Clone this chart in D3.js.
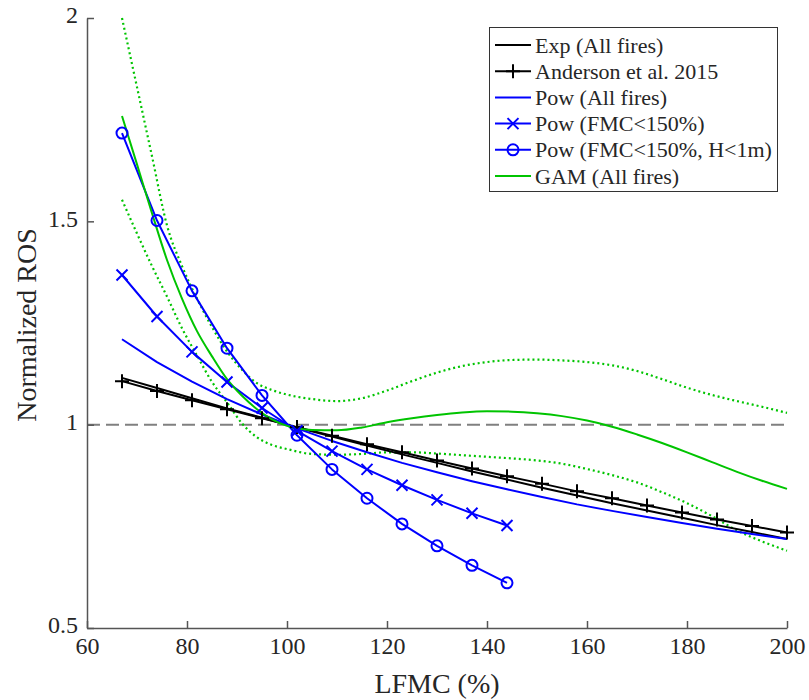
<!DOCTYPE html>
<html>
<head>
<meta charset="utf-8">
<script src="https://cdn.jsdelivr.net/npm/d3@7"></script>
<style>
  body { margin: 0; background: #fff; }
  svg { display: block; }
  svg text { font-family: "Liberation Serif", "Tinos", "Times New Roman", Times, "Nimbus Roman", "Nimbus Roman No9 L", "DejaVu Serif", "Noto Serif", serif !important; fill: #262626; }
</style>
</head>
<body>
<svg id="chart" width="809" height="700"></svg>
<script>
// ---- data ----
const xTicks = [60, 80, 100, 120, 140, 160, 180, 200];
const yTicks = [0.5, 1, 1.5, 2];
const yTickLabels = ["0.5", "1", "1.5", "2"];

const lfmcFull = [67, 74, 81, 88, 95, 102, 109, 116, 123, 130, 137, 144, 151, 158, 165, 172, 179, 186, 193, 200];
const lfmcShort = [67, 74, 81, 88, 95, 102, 109, 116, 123, 130, 137, 144];

const expAll = [1.115, 1.090, 1.065, 1.040, 1.017, 0.993, 0.971, 0.949, 0.927, 0.906, 0.885, 0.865, 0.845, 0.826, 0.807, 0.789, 0.771, 0.753, 0.736, 0.719];
const anderson = [1.107, 1.083, 1.060, 1.038, 1.016, 0.994, 0.973, 0.952, 0.932, 0.912, 0.892, 0.873, 0.855, 0.836, 0.819, 0.801, 0.784, 0.767, 0.751, 0.735];
const powAll = [1.210, 1.154, 1.106, 1.063, 1.025, 0.991, 0.960, 0.932, 0.906, 0.883, 0.861, 0.841, 0.822, 0.804, 0.788, 0.773, 0.758, 0.744, 0.731, 0.719];
const powFmc = [1.368, 1.266, 1.179, 1.105, 1.041, 0.985, 0.935, 0.890, 0.851, 0.815, 0.782, 0.752];
const powFmcH = [1.717, 1.502, 1.329, 1.188, 1.072, 0.974, 0.890, 0.819, 0.756, 0.702, 0.654, 0.611];

const gamX = [67, 70, 73, 76, 79, 82, 85, 88, 91, 94, 97, 100, 105, 110, 115, 120, 125, 130, 135, 140, 145, 150, 155, 160, 165, 170, 175, 180, 185, 190, 195, 200];
const gamFit = [1.759, 1.640, 1.520, 1.405, 1.310, 1.230, 1.168, 1.112, 1.071, 1.038, 1.013, 0.997, 0.987, 0.986, 0.993, 1.006, 1.016, 1.024, 1.030, 1.033, 1.032, 1.028, 1.021, 1.010, 0.995, 0.976, 0.955, 0.932, 0.908, 0.884, 0.862, 0.842];
const gamUpper = [2.000, 1.830, 1.660, 1.490, 1.390, 1.310, 1.240, 1.180, 1.135, 1.102, 1.085, 1.074, 1.063, 1.058, 1.065, 1.084, 1.107, 1.128, 1.144, 1.154, 1.159, 1.160, 1.158, 1.154, 1.146, 1.132, 1.112, 1.091, 1.073, 1.058, 1.044, 1.029];
const gamLower = [1.553, 1.470, 1.390, 1.315, 1.237, 1.170, 1.105, 1.055, 1.003, 0.969, 0.950, 0.940, 0.928, 0.926, 0.928, 0.932, 0.932, 0.929, 0.925, 0.921, 0.917, 0.912, 0.904, 0.891, 0.876, 0.858, 0.834, 0.807, 0.775, 0.740, 0.713, 0.690];

const legendLabels = ["Exp (All fires)", "Anderson et al. 2015", "Pow (All fires)", "Pow (FMC<150%)", "Pow (FMC<150%, H<1m)", "GAM (All fires)"];

// ---- drawing ----
const svg = d3.select("#chart");
const x = d3.scaleLinear().domain([60, 200]).range([87, 787]);
const y = d3.scaleLinear().domain([0.5, 2]).range([628, 18]);

const BLUE = "#0000ff", GREEN = "#00c400", BLACK = "#000000";

// reference line at 1
svg.append("line")
  .attr("x1", x(60)).attr("x2", x(200))
  .attr("y1", y(1)).attr("y2", y(1))
  .attr("stroke", "#808080").attr("stroke-width", 2)
  .attr("stroke-dasharray", "13,6");

const line = d3.line().curve(d3.curveMonotoneX).x(d => x(d[0])).y(d => y(d[1]));
const straight = d3.line().x(d => x(d[0])).y(d => y(d[1]));
function drawLine(xs, ys, color, dash, width, gen) {
  svg.append("path")
    .attr("d", (gen || straight)(xs.map((v, i) => [v, ys[i]])))
    .attr("fill", "none").attr("stroke", color)
    .attr("stroke-width", width || 2)
    .attr("stroke-dasharray", dash || null)
    .attr("stroke-linejoin", "round");
}

// GAM confidence band (dotted)
drawLine(gamX, gamUpper, GREEN, "2,3", 2.2, line);
drawLine(gamX, gamLower, GREEN, "2,3", 2.2, line);

// lines
drawLine(lfmcFull, anderson, BLACK);
drawLine(lfmcFull, expAll, BLACK);
drawLine(lfmcFull, powAll, BLUE);
drawLine(lfmcShort, powFmc, BLUE);
drawLine(lfmcShort, powFmcH, BLUE);
drawLine(gamX, gamFit, GREEN, null, 2, line);

// markers
function plusMarker(g, cx, cy, s, color) {
  g.append("path").attr("d", `M${cx - s},${cy}H${cx + s}M${cx},${cy - s}V${cy + s}`)
    .attr("stroke", color).attr("stroke-width", 2).attr("fill", "none");
}
function crossMarker(g, cx, cy, s, color) {
  g.append("path").attr("d", `M${cx - s},${cy - s}L${cx + s},${cy + s}M${cx - s},${cy + s}L${cx + s},${cy - s}`)
    .attr("stroke", color).attr("stroke-width", 2).attr("fill", "none");
}
function circleMarker(g, cx, cy, r, color) {
  g.append("circle").attr("cx", cx).attr("cy", cy).attr("r", r)
    .attr("stroke", color).attr("stroke-width", 2).attr("fill", "none");
}
const mk = svg.append("g");
lfmcFull.forEach((v, i) => plusMarker(mk, x(v), y(anderson[i]), 7, BLACK));
lfmcShort.forEach((v, i) => crossMarker(mk, x(v), y(powFmc[i]), 5.5, BLUE));
lfmcShort.forEach((v, i) => circleMarker(mk, x(v), y(powFmcH[i]), 5.5, BLUE));

// axes
const axisColor = "#555";
const xAxis = svg.append("g").attr("transform", `translate(0,${y(0.5)})`)
  .call(d3.axisBottom(x).tickValues(xTicks).tickFormat(d3.format("d")).tickSizeInner(-7).tickSizeOuter(0).tickPadding(9));
const yAxis = svg.append("g").attr("transform", `translate(${x(60)},0)`)
  .call(d3.axisLeft(y).tickValues(yTicks).tickFormat((d, i) => yTickLabels[i]).tickSizeInner(-7).tickSizeOuter(0).tickPadding(9));
[xAxis, yAxis].forEach(a => {
  a.attr("font-family", null);
  a.select(".domain").attr("stroke", axisColor).attr("stroke-width", 1.5);
  a.selectAll(".tick line").attr("stroke", axisColor).attr("stroke-width", 1.5);
  a.selectAll(".tick text").attr("font-size", 24).attr("fill", "#262626");
});
yAxis.selectAll(".tick text").attr("dy", "0.2em");

// axis titles
svg.append("text").attr("x", x(130)).attr("y", 693)
  .attr("text-anchor", "middle").attr("font-size", 28).text("LFMC (%)");
svg.append("text").attr("transform", `translate(36,${y(1.25) + 2}) rotate(-90)`)
  .attr("text-anchor", "middle").attr("font-size", 28).text("Normalized ROS");

// legend
const lg = svg.append("g");
lg.append("rect").attr("x", 489.5).attr("y", 27.5).attr("width", 288).attr("height", 164)
  .attr("fill", "#fff").attr("stroke", "#333").attr("stroke-width", 1);
const legendStyles = [
  { c: BLACK, m: null }, { c: BLACK, m: "plus" }, { c: BLUE, m: null },
  { c: BLUE, m: "cross" }, { c: BLUE, m: "circle" }, { c: GREEN, m: null }
];
legendLabels.forEach((t, i) => {
  const cy = 45 + i * 26.2;
  const st = legendStyles[i];
  lg.append("line").attr("x1", 495).attr("x2", 531).attr("y1", cy).attr("y2", cy)
    .attr("stroke", st.c).attr("stroke-width", 2);
  const mx = 513;
  if (st.m === "plus") plusMarker(lg, mx, cy, 7, st.c);
  if (st.m === "cross") crossMarker(lg, mx, cy, 5.5, st.c);
  if (st.m === "circle") circleMarker(lg, mx, cy, 5.5, st.c);
  lg.append("text").attr("x", 535).attr("y", cy + 7.5).attr("font-size", 22).attr("fill", "#000").text(t);
});
</script>
</body>
</html>
